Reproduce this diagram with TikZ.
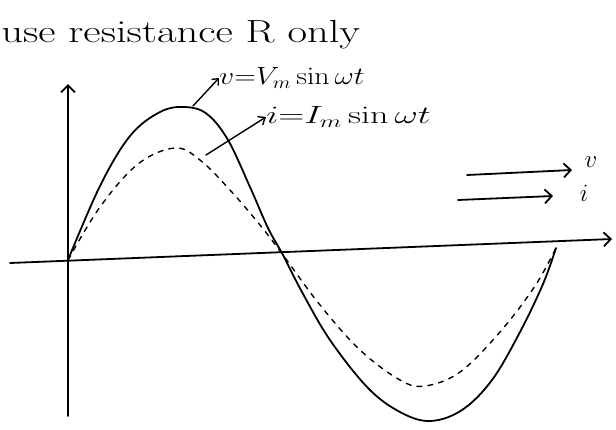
\documentclass[tikz,border=0pt]{standalone}
\usetikzlibrary{arrows.meta}
\begin{document}
\begin{tikzpicture}[x=1pt,y=-1pt,
  ink/.style={line width=1.8pt,line cap=round,line join=round},
  tip/.style={-{Straight Barb[length=7pt,width=14pt,line width=1.8pt]}},
  hand/.style={inner sep=0pt,font=\fontsize{20}{22}\selectfont}]
\useasboundingbox (0,0) rectangle (616,429);
% axes
\coordinate (O) at (68,260);
\coordinate (ybot) at (68,416);
\coordinate (ytop) at (68,84);
\coordinate (xl) at (10,263);
\coordinate (xr) at (612,239);
\draw[ink,tip] (ybot) -- (ytop);
\draw[ink,tip] (xl) -- (xr);
% voltage curve (solid)
\draw[ink] plot[smooth,tension=0.6] coordinates {(68,260) (100,186) (130,136) (160,112) (185,107) (207,114) (228,140) (250,187) (268,228) (283,255) (302,292) (330,340) (368,388) (400,412) (430,421) (462,410) (492,380) (520,332) (543,284) (556,248)};
% current curve (dashed)
\draw[ink,line width=1.4pt,dash pattern=on 5pt off 6pt] plot[smooth,tension=0.6] coordinates {(68,260) (100,207) (138,164) (175,148) (200,160) (230,190) (260,225) (283,255) (320,305) (360,350) (400,380) (425,386) (460,372) (500,332) (535,286) (556,248)};
% title
\node[hand,anchor=west,xscale=1.33,font=\fontsize{32}{34}\selectfont] (title) at (1,35) {use resistance R only};
% labels
\node[hand,anchor=west,xscale=1.2,font=\fontsize{23}{25}\selectfont] (vlab) at (219,78) {$v{=}V_m\sin\omega t$};
\node[hand,anchor=west,xscale=1.45,font=\fontsize{26}{28}\selectfont] (ilab) at (266,117) {$i{=}I_m\sin\omega t$};
\coordinate (va) at (193,106);
\coordinate (ia) at (206,155);
\draw[ink,line width=1.4pt,-{Straight Barb[length=5pt,width=9pt]}] (va) -- (vlab.west);
\draw[ink,line width=1.4pt,-{Straight Barb[length=6pt,width=10pt]}] (ia) -- (ilab.west);
% legend arrows
\coordinate (l1a) at (467,175);
\coordinate (l1b) at (572,170);
\coordinate (l2a) at (458,200);
\coordinate (l2b) at (553,196);
\draw[ink,tip] (l1a) -- (l1b);
\draw[ink,tip] (l2a) -- (l2b);
\node[hand,font=\fontsize{24}{26}\selectfont] (lv) at (591,162) {$v$};
\node[hand,font=\fontsize{24}{26}\selectfont] (li) at (584,193) {$i$};
\end{tikzpicture}
\end{document}
